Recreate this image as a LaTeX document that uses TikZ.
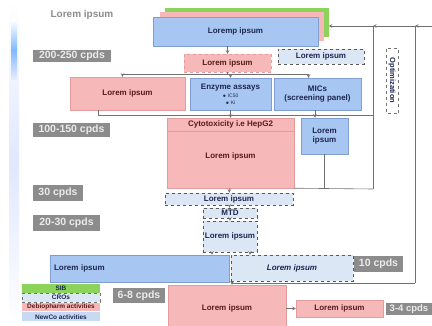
\documentclass[tikz,border=0pt]{standalone}
\usepackage{fontspec}
\setmainfont{Liberation Sans}
\definecolor{nblue}{HTML}{A8C6F2}
\definecolor{nblueline}{HTML}{7F9FD0}
\definecolor{dpink}{HTML}{F6B8B8}
\definecolor{dpinkline}{HTML}{E29C9C}
\definecolor{crofill}{HTML}{DCE7F6}
\definecolor{sibgreen}{HTML}{8CD35C}
\definecolor{tagray}{HTML}{8C8C8C}
\definecolor{navytext}{HTML}{1C2650}
\definecolor{redtext}{HTML}{5A1A1A}
\definecolor{wireg}{HTML}{707070}
\tikzset{>=stealth}
\tikzset{
  box/.style={inner sep=1pt, align=center, font=\bfseries\fontsize{8}{9}\selectfont},
  newco/.style={box, fill=nblue, draw=nblueline, text=navytext},
  debio/.style={box, fill=dpink, draw=dpinkline, text=redtext},
  cro/.style={box, fill=crofill, draw=black!65, dashed, text=navytext},
  tag/.style={inner sep=0pt, fill=tagray, text=white!92!black, font=\bfseries\fontsize{10.5}{11}\selectfont},
  legend/.style={inner sep=0pt, minimum width=78, minimum height=8.6, font=\bfseries\fontsize{6.5}{7}\selectfont, text=navytext},
  wire/.style={draw=wireg, line width=0.6pt},
}

\begin{document}
\begin{tikzpicture}[x=1pt, y=-1pt]
\useasboundingbox (0,0) rectangle (432,326);

% side decoration
\shade[top color=white, bottom color=white, middle color=cyan!25!blue!12] (9,0) rectangle (19,326);
\shade[top color=white, bottom color=cyan!10!blue!8, middle color=cyan!45!blue!50] (11,20) rectangle (17,80);

\node[text=black!45, font=\bfseries\fontsize{10}{11}\selectfont] (title) at (82,15) {Lorem ipsum};

% compound stack
\node[fill=sibgreen, minimum width=164, minimum height=29] (topg) at (246.5,22.5) {};
\node[fill=dpink, minimum width=164, minimum height=29] (topp) at (242,26.5) {};
\node[newco, minimum width=165, minimum height=29] (topbox) at (235.5,31.5) {Loremp ipsum};

\node[tag, minimum width=78, minimum height=12.5] (t200) at (72,56) {200-250 cpds};
\node[debio, dashed, minimum width=87, minimum height=18] (pinkd) at (227.5,63) {Lorem ipsum};
\node[cro, minimum width=86, minimum height=15] (crotop) at (321,56.5) {Lorem ipsum};

\node[debio, minimum width=115, minimum height=33] (leftpink) at (127.5,93.5) {Lorem ipsum};
\node[newco, minimum width=81, minimum height=32] (enzyme) at (230.5,94) {Enzyme assays\\[-1pt]{\fontsize{5}{6}\selectfont\mdseries $\bullet$ IC50}\\[-2pt]{\fontsize{5}{6}\selectfont\mdseries $\bullet$ Ki}};
\node[newco, minimum width=87, minimum height=32] (mics) at (317.5,94) {MICs\\(screening panel)};

\node[fill=white, draw=black!55, dashed, rotate=-90, inner sep=0pt, minimum width=65, minimum height=12, text=navytext, font=\bfseries\fontsize{7.5}{8}\selectfont] (optim) at (392,80.5) {Optimization};

\node[tag, minimum width=77, minimum height=14] (t100) at (71.5,130) {100-150 cpds};
\node[debio, minimum width=127, minimum height=70] (cyto) at (230.5,153) {\\[4pt]Lorem ipsum};
\node[debio, anchor=north, minimum width=127, minimum height=13] (cytohead) at (cyto.north) {Cytotoxicity i.e HepG2};
\node[newco, minimum width=47, minimum height=36] (smallblue) at (324.5,136) {Lorem\\ipsum};

\node[tag, minimum width=50, minimum height=16] (t30) at (58,193) {30 cpds};
\node[cro, minimum width=128, minimum height=12] (cro1) at (229,199) {Lorem ipsum};
\node[cro, minimum width=54, minimum height=10] (mtd) at (230,213) {MTD};
\node[cro, minimum width=54, minimum height=31] (cro3) at (230,236.5) {Lorem ipsum};
\node[tag, minimum width=67, minimum height=16] (t20) at (66.5,223) {20-30 cpds};

\node[newco, text width=171, inner xsep=4, align=left, minimum height=27] (wideblue) at (139.5,268.5) {Lorem ipsum};
\node[cro, minimum width=122, minimum height=26, font=\bfseries\itshape\fontsize{8}{9}\selectfont] (croit) at (292,268) {Lorem ipsum};
\node[tag, minimum width=49, minimum height=16] (t10) at (378.5,264) {10 cpds};

\node[tag, minimum width=52, minimum height=15] (t68) at (139,295.5) {6-8 cpds};
\node[debio, minimum width=118, minimum height=46] (bigpink) at (227,308) {Lorem ipsum};
\node[debio, minimum width=87, minimum height=17] (smallpink) at (339.5,308.5) {Lorem ipsum};
\node[tag, minimum width=46, minimum height=12, font=\bfseries\fontsize{9.5}{10}\selectfont] (t34) at (409,309) {3-4 cpds};

% legend
\node[legend, fill=sibgreen] (lsib) at (61,288.5) {SIB};
\node[legend, fill=crofill, draw=black!55, dashed] (lcro) at (61,297.7) {CROs};
\node[legend, fill=dpink, text=redtext] (ldebio) at (61,307.2) {Debiopharm activities};
\node[legend, fill=crofill!60!nblue] (lnewco) at (61,316.7) {NewCo activities};

% junctions
\coordinate (split) at (227.5,74);
\coordinate (fbL) at (98,115);
\coordinate (fbR) at (373,115);
\coordinate (fbB) at (373,189);
\coordinate (fork) at (232,283);
\coordinate (fb2) at (415,283);
\coordinate (j1) at (373,26);
\coordinate (j2) at (415,26);
\coordinate (edge) at (432,26);

\draw[wire, ->] (topbox.south -| pinkd.north) -- (pinkd.north);
\draw[wire] (pinkd.south) -- (split);
\draw[wire, ->] (split) -| ([xshift=-5pt]leftpink.north);
\draw[wire, ->] (split) -| (enzyme.north);
\draw[wire, ->] (split) -| ([xshift=-9pt]mics.north);
\draw[wire] (leftpink.south -| fbL) -- (fbL) -- (fbR);
\draw[wire, ->] (enzyme) to (cytohead);
\draw[wire, ->] (mics.south -| 315,0) -- (smallblue.north -| 315,0);
\draw[wire] (cyto.south east) -- (fbB);
\draw[wire] (smallblue.south) -- (smallblue.south |- fbB);
\draw[wire, ->] (cyto) to (cro1);
\draw[wire, ->] (cro1) to (mtd);
\draw[wire, ->] (mtd) to (cro3);
\draw[wire, ->] ([xshift=-18pt]cro3.south) -- ([xshift=-18pt]cro3.south |- wideblue.north);
\draw[wire, ->] ([xshift=20pt]cro3.south) -- ([xshift=20pt]cro3.south |- croit.north);
\draw[wire, ->] (fork) -- (fork |- bigpink.north);
\draw[wire] (fork) -- (fb2);
\draw[wire, ->] (bigpink.east |- smallpink) -- (smallpink.west);

% optimization loop
\draw[wire] (fbB) -- (j1);
\draw[wire] (fb2) -- (j2);
\draw[wire, ->] (edge) -- (j2);
\draw[wire, ->] (j2) -- (j1);
\draw[wire, ->] (j1) -- (topg.east |- j1);

\end{tikzpicture}
\end{document}
